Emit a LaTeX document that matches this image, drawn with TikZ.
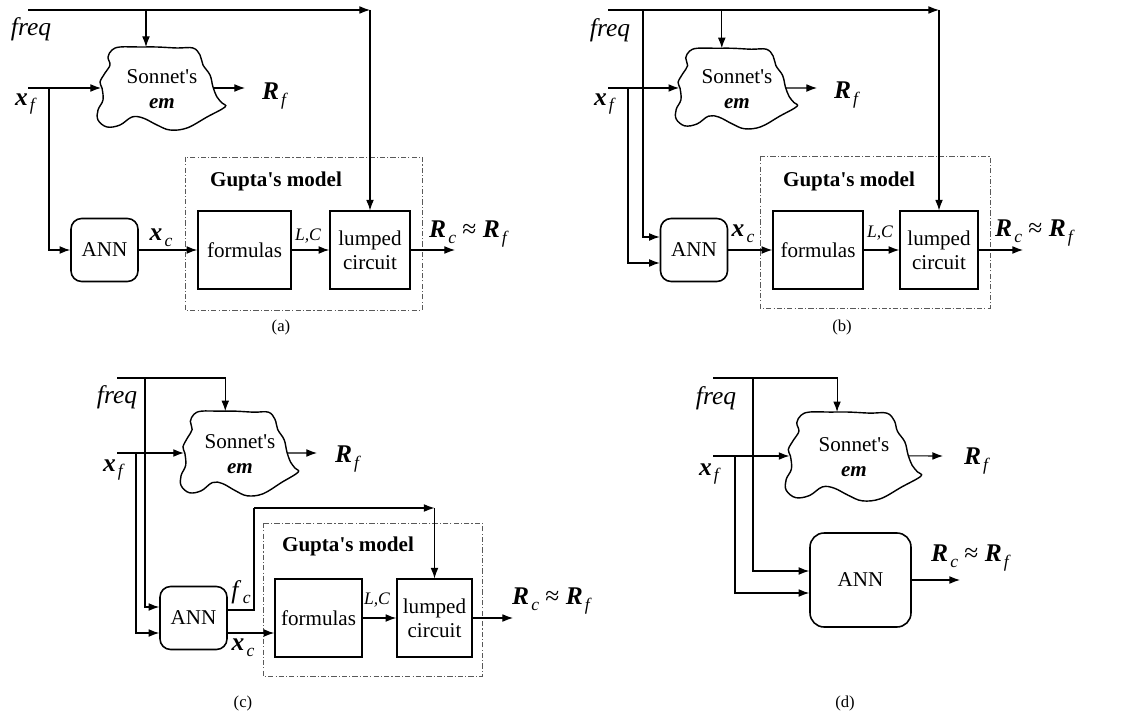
\documentclass[tikz,border=0pt]{standalone}
\usepackage{fontspec}
\setmainfont{Liberation Serif}
\usetikzlibrary{arrows.meta}
\usetikzlibrary{calc}
\tikzset{
  ann node/.style={draw,rounded corners=6pt,line width=0.9pt,minimum width=1.34cm,minimum height=1.26cm,font=\fontsize{12}{14}\selectfont},
  blk node/.style={draw,line width=0.9pt,minimum height=1.55cm,align=center,font=\fontsize{12}{13.5}\selectfont},
  gupta box/.style={-,draw=black!65,line width=0.4pt,dash pattern=on 3pt off 1.2pt on 0.6pt off 1.2pt},
  gupta text/.style={inner sep=0pt,font=\bfseries\fontsize{12}{14}\selectfont},
  lbl/.style={inner sep=0pt,font=\fontsize{14.5}{16}\selectfont},
  small lbl/.style={inner sep=0pt,font=\fontsize{10}{12}\selectfont\itshape},
  caption lbl/.style={inner sep=0pt,font=\fontsize{9.5}{11}\selectfont},
  cloud text/.style={align=center,inner sep=0pt,font=\fontsize{12}{14.5}\selectfont}
}
\newcommand{\bvec}[2]{\textbf{\textit{#1}}\kern1.2pt\raisebox{-3.2pt}{\fontsize{10}{10}\selectfont\textit{#2}}}
% cloud: name, centre, xscale, yscale
\newcommand{\sonnet}[4]{%
  \node[cloud text] (#1) at (#2) {Sonnet\textquotesingle s\\\textbf{\textit{em}}};
  \begin{scope}[shift={(#1.center)},xscale=#3,yscale=#4]
    \draw[-,line width=0.8pt] plot[smooth cycle,tension=0.6] coordinates {
      (-50,-39) (-42,-42) (-22,-42) (-5,-42) (15,-41) (31,-41) (38,-34)
      (41,-24) (48,-14) (51,-2) (55,8) (60,14) (63,18) (45,28) (25,39)
      (8,41) (-5,36) (-19,29) (-30,28) (-42,36) (-55,38) (-64,31)
      (-64,21) (-59,11) (-60,-1) (-62,-7) (-57,-16) (-52,-24) (-54,-32)};
    \coordinate (#1-n) at (-16,-42);
    \coordinate (#1-w) at (-61,-1);
    \coordinate (#1-e) at (51,-1);
  \end{scope}}

\begin{document}
\begin{tikzpicture}[->,>={Latex[length=6pt,width=4.4pt]},line width=0.6pt,x=0.02cm,y=-0.02cm]
\useasboundingbox (0,0) rectangle (1128,719);

% (a)
\coordinate (fa) at (28,10);
\coordinate (xa) at (28,88);
\node[lbl] (freqa) at (31,29) {\textit{freq}};
\node[lbl] (xfa) at (26,104) {\bvec{x}{f}};
\sonnet{sa}{162,89}{1}{1}
\node[lbl] (rfa) at (275,96) {\bvec{R}{f}};
\node[ann node] (anna) at (104.5,250) {ANN};
\node[blk node,minimum width=1.86cm] (forma) at (244.5,250) {formulas};
\node[blk node,minimum width=1.6cm] (lumpa) at (370,250) {lumped\\circuit};
\draw[gupta box] (185,157) rectangle (422,310);
\node[gupta text] (gupa) at (276,181) {Gupta\textquotesingle s model};
\node[lbl] (xca) at (161,238) {\bvec{x}{c}};
\node[small lbl] (lca) at (308,236) {L,C};
\node[lbl] (rca) at (469,234) {\bvec{R}{c} ≈ \bvec{R}{f}};
\node[caption lbl] (capa) at (281,327) {(a)};
\coordinate (ta) at (lumpa.north |- fa);
\coordinate (ba) at (49,88);
\coordinate (ra) at (245,88);
\coordinate (oa) at (455,250);
\draw (fa) -- (ta);
\draw (ta) -- (lumpa.north);
\draw (sa-n |- fa) -- (sa-n);
\draw (xa) -- (xa -| sa-w);
\draw (ba) |- (anna.west);
\draw (sa-e) -- (ra);
\draw (anna) -- (forma);
\draw (forma) -- (lumpa);
\draw (lumpa) -- (oa);

% (b)
\coordinate (fb) at (608,10);
\coordinate (xb) at (608,88);
\node[lbl] (freqb) at (610,30) {\textit{freq}};
\node[lbl] (xfb) at (605,104) {\bvec{x}{f}};
\sonnet{sb}{737,89}{0.95}{0.97}
\node[lbl] (rfb) at (847,95) {\bvec{R}{f}};
\node[ann node] (annb) at (694,250) {ANN};
\node[blk node,minimum width=1.8cm] (formb) at (818,250) {formulas};
\node[blk node,minimum width=1.56cm] (lumpb) at (939,250) {lumped\\circuit};
\draw[gupta box] (760,156) rectangle (990,308);
\node[gupta text] (gupb) at (849,181) {Gupta\textquotesingle s model};
\node[lbl] (xcb) at (743,234) {\bvec{x}{c}};
\node[small lbl] (lcb) at (880,233) {L,C};
\node[lbl] (rcb) at (1035,233) {\bvec{R}{c} ≈ \bvec{R}{f}};
\node[caption lbl] (capb) at (842,327) {(b)};
\coordinate (tb) at (lumpb.north |- fb);
\coordinate (bfb) at (643,10);
\coordinate (bxb) at (628,88);
\coordinate (rb) at (817,88);
\coordinate (ob) at (1023,250);
\draw (fb) -- (tb);
\draw (tb) -- (lumpb.north);
\draw (sb-n |- fb) -- (sb-n);
\draw (bfb) |- ($(annb.west)+(0,-13)$);
\draw (xb) -- (xb -| sb-w);
\draw (bxb) |- ($(annb.west)+(0,13)$);
\draw (sb-e) -- (rb);
\draw (annb) -- (formb);
\draw (formb) -- (lumpb);
\draw (lumpb) -- (ob);

% (c)
\coordinate (fc) at (117,378);
\coordinate (xc) at (117,453);
\node[lbl] (freqc) at (117,397) {\textit{freq}};
\node[lbl] (xfc) at (114,470) {\bvec{x}{f}};
\sonnet{sc}{240,454}{0.92}{1.02}
\node[lbl] (rfc) at (348,459) {\bvec{R}{f}};
\node[ann node] (annc) at (193.5,618) {ANN};
\node[blk node,minimum width=1.74cm] (formc) at (318.5,618) {formulas};
\node[blk node,minimum width=1.5cm] (lumpc) at (434.5,618) {lumped\\circuit};
\draw[gupta box] (263,523) rectangle (482,676);
\node[gupta text] (gupc) at (348,546) {Gupta\textquotesingle s model};
\node[lbl] (fcc) at (241,592) {\textit{f}\kern0.8pt\raisebox{-3.2pt}{\fontsize{10}{10}\selectfont\textit{c}}};
\node[lbl] (xcc) at (243,648) {\bvec{x}{c}};
\node[small lbl] (lcc) at (377,600) {L,C};
\node[lbl] (rcc) at (552,601) {\bvec{R}{c} ≈ \bvec{R}{f}};
\node[caption lbl] (capc) at (243,703) {(c)};
\coordinate (bfc) at (145,378);
\coordinate (bxc) at (136,453);
\coordinate (kc) at (254,508);
\coordinate (tc) at (lumpc.north |- kc);
\coordinate (rc) at (317,453);
\coordinate (oc) at (513,618);
\draw (fc) -| (sc-n);
\draw (bfc) |- ($(annc.west)+(0,-11)$);
\draw (xc) -- (xc -| sc-w);
\draw (bxc) |- ($(annc.west)+(0,15)$);
\draw (sc-e) -- (rc);
\draw[-] ($(annc.east)+(0,-8)$) -| (kc);
\draw (kc) -- (tc);
\draw (tc) -- (lumpc.north);
\draw ($(annc.east)+(0,15)$) -- ($(formc.west)+(0,15)$);
\draw (formc) -- (lumpc);
\draw (lumpc) -- (oc);

% (d)
\coordinate (fd) at (713,378);
\coordinate (xd) at (713,456);
\node[lbl] (freqd) at (716,398) {\textit{freq}};
\node[lbl] (xfd) at (710,474) {\bvec{x}{f}};
\sonnet{sd}{854,457}{1.06}{1.07}
\node[lbl] (rfd) at (977,461) {\bvec{R}{f}};
\node[ann node,minimum width=2.02cm,minimum height=1.88cm,rounded corners=8pt] (annd) at (860.5,580) {ANN};
\node[lbl] (rcd) at (971,558) {\bvec{R}{c} ≈ \bvec{R}{f}};
\node[caption lbl] (capd) at (845,703) {(d)};
\coordinate (bfd) at (753,378);
\coordinate (bxd) at (735,456);
\coordinate (rd) at (943,456);
\coordinate (od) at (960,580);
\draw (fd) -| (sd-n);
\draw (bfd) |- ($(annd.west)+(0,-9)$);
\draw (xd) -- (xd -| sd-w);
\draw (bxd) |- ($(annd.west)+(0,13)$);
\draw (sd-e) -- (rd);
\draw (annd) -- (od);
\end{tikzpicture}
\end{document}
